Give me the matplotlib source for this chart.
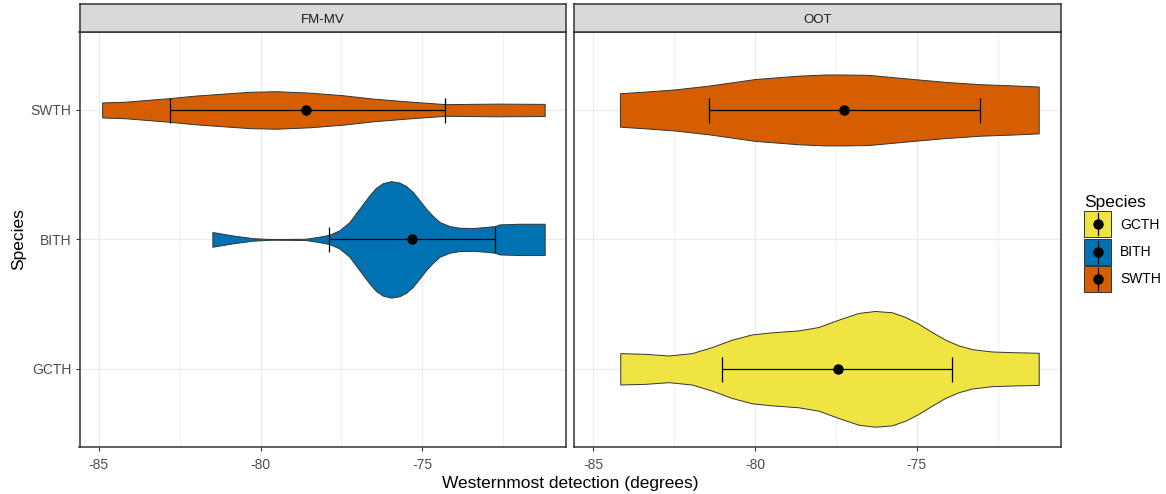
import numpy as np
import matplotlib.pyplot as plt
from matplotlib.patches import Patch, Rectangle
from matplotlib.lines import Line2D

plt.rcParams['font.family'] = ['Liberation Sans', 'DejaVu Sans']
plt.rcParams['axes.unicode_minus'] = False

species = ["GCTH", "BITH", "SWTH"]
fills = {"GCTH": "#F0E442", "BITH": "#0072B2", "SWTH": "#D55E00"}
facets = ["FM-MV", "OOT"]

# violin outlines: x position and half width (category units)
fm_swth_x = [-84.90, -84.18, -82.83, -82.01, -80.36, -79.53, -78.49, -77.46,
             -76.53, -75.50, -74.28, -72.71, -71.21]
fm_swth_w = [0.058, 0.064, 0.091, 0.111, 0.140, 0.145, 0.134, 0.114,
             0.088, 0.067, 0.045, 0.049, 0.047]

fm_bith_x = [-81.49, -80.87, -80.25, -79.63, -78.60, -78.18, -77.87, -77.56,
             -77.25, -76.94, -76.63, -76.43, -76.22, -75.96, -75.70, -75.50,
             -75.29, -75.08, -74.88, -74.67, -74.46, -74.15, -73.84, -73.43,
             -73.02, -72.76, -72.60, -71.98, -71.21]
fm_bith_w = [0.057, 0.031, 0.010, 0.002, 0.005, 0.021, 0.036, 0.070,
             0.134, 0.238, 0.341, 0.398, 0.434, 0.450, 0.439, 0.413,
             0.367, 0.302, 0.238, 0.181, 0.134, 0.103, 0.090, 0.088,
             0.096, 0.103, 0.116, 0.121, 0.121]

oot_swth_x = [-84.18, -83.40, -82.47, -81.44, -80.00, -78.66, -77.83, -77.22,
              -76.49, -75.15, -74.12, -73.04, -72.06, -71.23]
oot_swth_w = [0.129, 0.142, 0.159, 0.188, 0.239, 0.265, 0.274, 0.274,
              0.271, 0.240, 0.217, 0.199, 0.190, 0.181]

oot_gcth_x = [-84.17, -83.40, -82.68, -81.96, -81.34, -80.72, -80.10, -79.48,
              -78.66, -78.04, -77.42, -76.80, -76.29, -75.77, -75.36, -74.95,
              -74.53, -74.12, -73.71, -73.29, -72.68, -72.06, -71.23]
oot_gcth_w = [0.121, 0.116, 0.103, 0.121, 0.168, 0.225, 0.266, 0.282,
              0.297, 0.323, 0.380, 0.432, 0.447, 0.437, 0.401, 0.349,
              0.284, 0.225, 0.181, 0.152, 0.134, 0.129, 0.124]

violins = {
    "FM-MV": [("SWTH", fm_swth_x, fm_swth_w), ("BITH", fm_bith_x, fm_bith_w)],
    "OOT": [("SWTH", oot_swth_x, oot_swth_w), ("GCTH", oot_gcth_x, oot_gcth_w)],
}

# mean and interval per facet / species
summary = {
    "FM-MV": {"SWTH": (-78.60, -82.81, -74.28), "BITH": (-75.32, -77.87, -72.76)},
    "OOT": {"SWTH": (-77.25, -81.42, -73.03), "GCTH": (-77.45, -81.03, -73.91)},
}


class KeyHandler:
    # ggplot-like key: filled square, vertical error line and a dot in the middle
    def legend_artist(self, legend, orig_handle, fontsize, handlebox):
        x0, y0 = handlebox.xdescent, handlebox.ydescent
        w, h = handlebox.width, handlebox.height
        tr = handlebox.get_transform()
        rect = Rectangle((-x0, -y0), w, h, facecolor=orig_handle.get_facecolor(),
                         edgecolor='#333333', linewidth=0.7, transform=tr)
        cx, cy = w / 2 - x0, h / 2 - y0
        line = Line2D([cx, cx], [cy - 0.42 * h, cy + 0.42 * h], color='black',
                      linewidth=0.9, transform=tr)
        dot = Line2D([cx], [cy], marker='o', ms=6.5, color='black', transform=tr)
        for a in (rect, line, dot):
            handlebox.add_artist(a)
        return rect


W, H = 1166, 494
fig = plt.figure(figsize=(W / 100, H / 100), dpi=100)


def box(l, t, r, b):
    return [l / W, 1 - b / H, (r - l) / W, (b - t) / H]


panel_lr = [(79.5, 566), (574, 1060.7)]
for k, facet in enumerate(facets):
    l, r = panel_lr[k]
    ax = fig.add_axes(box(l, 32.3, r, 446.5))
    st = fig.add_axes(box(l, 4, r, 32.3))

    for name, xs, ws in violins[facet]:
        pos = species.index(name) + 1
        xs = np.array(xs)
        ws = np.array(ws)
        ax.fill_between(xs, pos - ws, pos + ws, facecolor=fills[name],
                        edgecolor='#333333', linewidth=0.7, zorder=2)
        m, lo, hi = summary[facet][name]
        ax.errorbar([m], [pos], xerr=[[m - lo], [hi - m]], fmt='o', color='black',
                    ms=6.5, elinewidth=0.9, capsize=9, capthick=0.9, zorder=3)

    ax.set_xlim(-85.6, -70.55)
    ax.set_ylim(0.4, 3.6)
    ax.set_xticks([-85, -80, -75])
    ax.set_xticks([-82.5, -77.5, -72.5], minor=True)
    ax.set_yticks([1, 2, 3])
    ax.set_yticklabels(species)
    ax.grid(True, which='major', color='#EBEBEB', linewidth=1.0)
    ax.grid(True, which='minor', axis='x', color='#EBEBEB', linewidth=0.5)
    ax.set_axisbelow(True)
    for s in ax.spines.values():
        s.set_color('#333333')
        s.set_linewidth(1.1)
    ax.tick_params(which='major', length=3, width=0.8, color='#333333',
                   labelcolor='#4D4D4D', labelsize=10, pad=3)
    ax.tick_params(axis='x', pad=5)
    ax.tick_params(which='minor', length=0)
    if k == 1:
        ax.tick_params(axis='y', left=False, labelleft=False)

    st.set_facecolor('#D9D9D9')
    st.set_xticks([])
    st.set_yticks([])
    for s in st.spines.values():
        s.set_color('#333333')
        s.set_linewidth(1.1)
    st.text(0.5, 0.45, facet, ha='center', va='center', fontsize=9.5,
            color='#1A1A1A', transform=st.transAxes)

fig.text(570 / W, 1 - 483 / H, "Westernmost detection (degrees)",
         ha='center', va='center', fontsize=12.5)
fig.text(19 / W, 1 - 239.5 / H, "Species", rotation=90,
         ha='center', va='center', fontsize=12.5)

handles = [Patch(facecolor=fills[name]) for name in species]
fig.legend(handles, species, title="Species", loc='upper left',
           bbox_to_anchor=(1084 / W, 1 - 195 / H), frameon=False,
           handler_map={Patch: KeyHandler()},
           fontsize=10, title_fontsize=12.5, alignment='left',
           handlelength=1.95, handleheight=2.5, labelspacing=0.1,
           handletextpad=0.65, borderpad=0, borderaxespad=0)

fig.savefig('out.png', dpi=100)
